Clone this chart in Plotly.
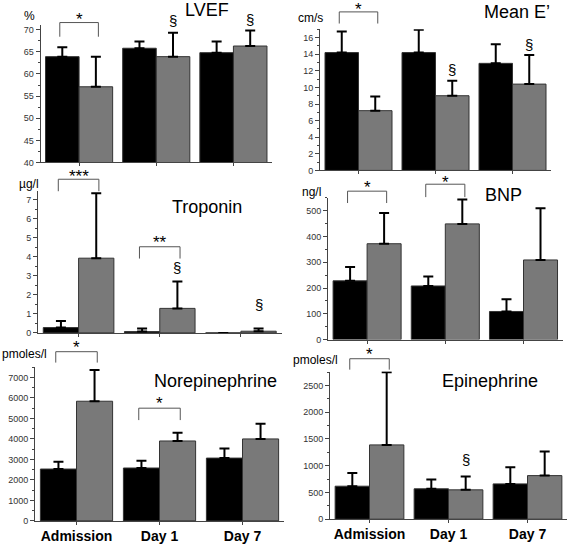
import plotly.graph_objects as go

W, H = 567, 545

categories = ["Admission", "Day 1", "Day 7"]

lvef_black = [63.9, 65.8, 64.8]
lvef_black_sd = [2.1, 1.5, 2.5]
lvef_gray = [57.1, 63.9, 66.3]
lvef_gray_sd = [6.8, 5.4, 3.5]

e_black = [14.2, 14.2, 12.9]
e_black_sd = [2.55, 2.75, 2.3]
e_gray = [7.2, 9.0, 10.4]
e_gray_sd = [1.7, 1.8, 3.5]

trop_black = [0.28, 0.07, 0.0]
trop_black_sd = [0.35, 0.16, 0.0]
trop_gray = [3.93, 1.29, 0.09]
trop_gray_sd = [3.42, 1.42, 0.14]

bnp_black = [228, 208, 109]
bnp_black_sd = [54, 37, 47]
bnp_gray = [372, 449, 309]
bnp_gray_sd = [119, 95, 201]

ne_black = [2530, 2580, 3065]
ne_black_sd = [355, 355, 467]
ne_gray = [5840, 3900, 4000]
ne_gray_sd = [1530, 405, 740]

epi_black = [617, 568, 660]
epi_black_sd = [247, 173, 309]
epi_gray = [1389, 549, 815]
epi_gray_sd = [1358, 247, 450]

# panel setup: (name, unit, black, black_sd, gray, gray_sd, x px, y px, range, dtick)
panels = [
    ("LVEF", "%", lvef_black, lvef_black_sd, lvef_gray, lvef_gray_sd,
     (40.5, 272), (25, 164), (40, 71.1), 5),
    ("Mean E’", "cm/s", e_black, e_black_sd, e_gray, e_gray_sd,
     (320, 551), (29.6, 172), (0, 17), 2),
    ("Troponin", "µg/l", trop_black, trop_black_sd, trop_gray, trop_gray_sd,
     (38, 281.5), (193, 336), (0, 7.45), 1),
    ("BNP", "ng/l", bnp_black, bnp_black_sd, bnp_gray, bnp_gray_sd,
     (328, 562.6), (199.7, 342.7), (0, 550), 100),
    ("Norepinephrine", "pmoles/l", ne_black, ne_black_sd, ne_gray, ne_gray_sd,
     (35, 284), (370, 525.7), (0, 7530), 1000),
    ("Epinephrine", "pmoles/l", epi_black, epi_black_sd, epi_gray, epi_gray_sd,
     (330, 567), (375, 524), (0, 2760), 500),
]

# title positions (px) and unit label positions (px, left edge)
title_pos = [(207, 10), (517, 12), (207, 209), (503, 197), (215, 385), (490, 385)]
unit_pos = [(23, 16), (297, 18), (18, 186), (301, 194), (1, 357), (292, 363)]

# significance brackets: (panel, category, top, bottom, star y, text)
brackets = [
    (0, 0, 71.6, 68.4, 72.2, "*"),
    (1, 0, 19.1, 17.7, 19.4, "*"),
    (2, 0, 8.08, 7.45, 8.25, "***"),
    (2, 1, 4.53, 3.91, 4.75, "**"),
    (3, 0, 576, 530, 590, "*"),
    (3, 1, 603, 553, 610, "*"),
    (4, 0, 8258, 7726, 8450, "*"),
    (4, 1, 5501, 4920, 5750, "*"),
    (5, 0, 3000, 2796, 3075, "*"),
]
# section marks: (panel, category, y)
sections = [
    (0, 1, 72.0), (0, 2, 72.2),
    (1, 1, 12.2), (1, 2, 15.2),
    (2, 1, 3.45), (2, 2, 1.5),
    (5, 1, 1110),
]

fig = go.Figure()
ann = []
shapes = []
font = "Arial, Liberation Sans, sans-serif"


def frac(p, v):
    r0, r1 = panels[p][8]
    return (v - r0) / (r1 - r0)


for i, (name, unit, b, bsd, g, gsd, xp, yp, rng, dt) in enumerate(panels):
    n = "" if i == 0 else str(i + 1)
    xa, ya = "x" + n, "y" + n
    for vals, sd, col in [(b, bsd, "#000000"), (g, gsd, "#797979")]:
        fig.add_trace(go.Bar(
            x=categories, y=vals, xaxis=xa, yaxis=ya,
            marker=dict(color=col, line=dict(color="#333333", width=1)),
            error_y=dict(type="data", symmetric=False, array=sd,
                         arrayminus=[0] * len(sd), color="#000000",
                         thickness=2, width=5),
            showlegend=False, hoverinfo="skip"))
    bottom = i >= 4
    fig.layout["xaxis" + n] = dict(
        domain=[xp[0] / W, xp[1] / W], anchor=ya, type="category",
        showline=True, linecolor="#444444", linewidth=1,
        ticks="outside", ticklen=3, tickcolor="#444444",
        showticklabels=bottom, showgrid=False, zeroline=False,
        ticklabelstandoff=-1,
        tickfont=dict(family=font, size=14, color="#000000", weight="bold"))
    fig.layout["yaxis" + n] = dict(
        domain=[1 - yp[1] / H, 1 - yp[0] / H], anchor=xa, range=list(rng),
        showline=True, linecolor="#444444", linewidth=1,
        ticks="outside", ticklen=4, tickcolor="#444444", dtick=dt,
        minor=dict(ticks="outside", ticklen=2, dtick=dt / 2, tickcolor="#444444"),
        showgrid=False, zeroline=False,
        tickfont=dict(family=font, size=9, color="#333333"))
    ann.append(dict(text=name, x=title_pos[i][0] / W, y=1 - title_pos[i][1] / H,
                    xref="paper", yref="paper", showarrow=False,
                    xanchor="center", yanchor="middle",
                    font=dict(family=font, size=18, color="#000000")))
    ann.append(dict(text=unit, x=unit_pos[i][0] / W, y=1 - unit_pos[i][1] / H,
                    xref="paper", yref="paper", showarrow=False,
                    xanchor="left", yanchor="middle", borderpad=0,
                    font=dict(family=font, size=12, color="#000000")))

for p, c, top, bot, sy, txt in brackets:
    n = "" if p == 0 else str(p + 1)
    ft, fb = frac(p, top), frac(p, bot)
    shapes.append(dict(type="path", xref="x" + n, yref="y" + n + " domain",
                       path=f"M {c - 0.25},{fb} L {c - 0.25},{ft} L {c + 0.25},{ft} L {c + 0.25},{fb}",
                       line=dict(color="#555555", width=1)))
    ann.append(dict(text=txt, x=c, y=frac(p, sy), xref="x" + n, yref="y" + n + " domain",
                    showarrow=False, xanchor="center", yanchor="middle",
                    font=dict(family=font, size=17, color="#000000")))

for p, c, sy in sections:
    n = "" if p == 0 else str(p + 1)
    ann.append(dict(text="§", x=c + 0.2175, y=frac(p, sy), xref="x" + n,
                    yref="y" + n + " domain",
                    showarrow=False, xanchor="center", yanchor="middle",
                    font=dict(family=font, size=15, color="#000000")))

fig.update_layout(
    width=W, height=H, margin=dict(l=0, r=0, t=0, b=0),
    paper_bgcolor="white", plot_bgcolor="white",
    barmode="group", bargap=0.13, bargroupgap=0,
    annotations=ann, shapes=shapes)

fig.write_html("out.html", config={"displayModeBar": False},
               post_script="document.body.style.margin='0';"
                           "document.documentElement.style.overflow='hidden';")
